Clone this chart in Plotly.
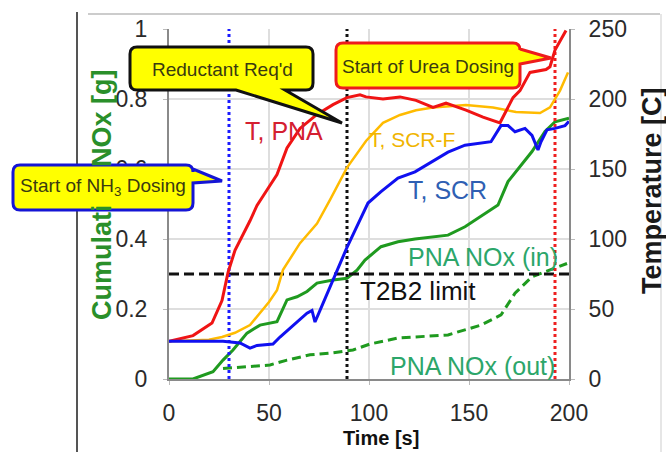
import plotly.graph_objects as go

# ---------------- data ----------------
t_pna = [0, 12, 21.5, 26.5, 29.5, 33, 40.5, 44, 49, 54, 59, 65.5, 74, 82, 89, 95.5,
         98.5, 107, 115.5, 123.5, 132, 138.5, 148.5, 157, 165.5, 168, 172, 175.5,
         180.5, 188.5, 190.5, 193, 198.5]
temp_pna = [27, 31, 40, 56, 76, 92, 113, 124, 135, 146, 165, 179, 189, 196, 201, 203,
            201.5, 200, 201.5, 199, 194, 197, 192, 187, 183, 190, 201, 206,
            219, 221, 223, 235, 249]

t_scrf = [0, 20, 26.5, 33, 40.5, 45.5, 50, 54, 57, 65.5, 74, 80.5, 89, 98.5, 107,
          115.5, 123.5, 132, 148.5, 162, 173.5, 185.5, 190.5, 195.5, 199.5]
temp_scrf = [27, 28, 30, 33, 38.5, 47, 55, 63.5, 78, 97, 111, 128, 151, 170, 183,
             188.6, 192, 194, 195.7, 194, 190.7, 190, 194, 206, 219]

t_scr = [0, 27, 35.5, 40.5, 44, 52, 55.5, 62, 69, 71.5, 73, 75.5, 79, 84, 89, 95.5,
         99.5, 106, 114.5, 123, 131, 139.5, 148, 161, 166, 169.5, 173, 178, 181.5,
         184.5, 186, 189, 193, 198, 200]
temp_scr = [27, 27, 25.7, 22, 24, 25, 30, 38.5, 47, 49, 40.7, 49, 61, 78, 94, 113.6,
            125.7, 133.8, 143.5, 148, 155, 162, 167, 169.5, 181, 181, 176.6, 179, 174,
            163.6, 169.5, 178, 179, 181, 184]

t_nox_in = [0, 12, 22, 27, 32, 39, 45.5, 54, 59, 64, 69, 74, 82, 89, 94, 98, 106,
            114.5, 123, 139.5, 148, 156, 164.5, 169.5, 176, 181.5, 188, 193, 200]
nox_in = [0, 0, 0.021, 0.054, 0.083, 0.131, 0.154, 0.164, 0.226, 0.235, 0.25, 0.274,
          0.283, 0.288, 0.311, 0.34, 0.378, 0.392, 0.40, 0.411, 0.435, 0.464, 0.497,
          0.564, 0.611, 0.65, 0.707, 0.735, 0.745]

t_nox_out = [27, 37, 50.5, 59, 70.5, 82, 92, 100.5, 114.5, 139.5, 148, 156, 166, 173,
             181.5, 190, 199]
nox_out = [0.03, 0.035, 0.04, 0.054, 0.069, 0.075, 0.083, 0.1, 0.117, 0.126, 0.14,
           0.154, 0.183, 0.245, 0.292, 0.31, 0.33]

NH3_DOSING_T = 30
REDUCTANT_T = 89
UREA_DOSING_T = 193
T2B2_LIMIT = 0.3

x_ticks = [0, 50, 100, 150, 200]
nox_ticks = [0, 0.2, 0.4, 0.6, 0.8, 1.0]
nox_tick_labels = ["0", "0.2", "0.4", "0.6", "0.8", "1"]
temp_ticks = [0, 50, 100, 150, 200, 250]

# ---------------- geometry helpers (pixels -> paper) ----------------
W, H = 666, 452
PL, PR, PT, PB = 169, 569, 29, 379


def X(px):
    return (px - PL) / (PR - PL)


def Y(py):
    return (PB - py) / (PB - PT)


def callout_path(x0, y0, x1, y1, r, tail=None):
    p = "M{},{} L{},{} Q{},{} {},{} ".format(X(x0 + r), Y(y0), X(x1 - r), Y(y0),
                                             X(x1), Y(y0), X(x1), Y(y0 + r))
    if tail and tail[0] == "right":
        _, a, b, tx, ty = tail
        p += "L{},{} L{},{} L{},{} ".format(X(x1), Y(a), X(tx), Y(ty), X(x1), Y(b))
    p += "L{},{} Q{},{} {},{} ".format(X(x1), Y(y1 - r), X(x1), Y(y1), X(x1 - r), Y(y1))
    if tail and tail[0] == "bottom":
        _, a, b, tx, ty = tail
        p += "L{},{} L{},{} L{},{} ".format(X(b), Y(y1), X(tx), Y(ty), X(a), Y(y1))
    p += "L{},{} Q{},{} {},{} ".format(X(x0 + r), Y(y1), X(x0), Y(y1), X(x0), Y(y1 - r))
    p += "L{},{} Q{},{} {},{} Z".format(X(x0), Y(y0 + r), X(x0), Y(y0), X(x0 + r), Y(y0))
    return p


RED = "#f01414"
ORANGE = "#ffbb00"
BLUE = "#1010f0"
GREEN = "#1f9a1f"
YELLOW = "#ffff00"
BASE = "Liberation Sans, Arial, sans-serif"

fig = go.Figure()

fig.add_trace(go.Scatter(x=t_scrf, y=temp_scrf, yaxis="y2", mode="lines",
                         line=dict(color=ORANGE, width=2.5)))
fig.add_trace(go.Scatter(x=t_nox_in, y=nox_in, mode="lines",
                         line=dict(color=GREEN, width=3)))
fig.add_trace(go.Scatter(x=t_nox_out, y=nox_out, mode="lines",
                         line=dict(color=GREEN, width=3, dash="9px,5px")))
fig.add_trace(go.Scatter(x=t_pna, y=temp_pna, yaxis="y2", mode="lines",
                         line=dict(color=RED, width=3)))
fig.add_trace(go.Scatter(x=t_scr, y=temp_scr, yaxis="y2", mode="lines",
                         line=dict(color=BLUE, width=3)))

# reference lines
fig.add_trace(go.Scatter(x=[0, 200], y=[T2B2_LIMIT, T2B2_LIMIT], mode="lines",
                         line=dict(color="#111111", width=3, dash="10px,5px")))
fig.add_trace(go.Scatter(x=[NH3_DOSING_T, NH3_DOSING_T], y=[0, 1], mode="lines",
                         line=dict(color="#1a1aff", width=3, dash="3px,3px")))
fig.add_trace(go.Scatter(x=[REDUCTANT_T, REDUCTANT_T], y=[0, 1], mode="lines",
                         line=dict(color="#111111", width=3, dash="3px,3px")))
fig.add_trace(go.Scatter(x=[UREA_DOSING_T, UREA_DOSING_T], y=[0, 1], mode="lines",
                         line=dict(color="#ee2020", width=3, dash="3px,3px")))

shapes = [
    # slide decorations
    dict(type="line", xref="paper", yref="paper", x0=X(77), x1=X(77), y0=Y(12), y1=Y(452),
         line=dict(color="#555555", width=2)),
    dict(type="line", xref="paper", yref="paper", x0=X(88), x1=X(660), y0=Y(14), y1=Y(14),
         line=dict(color="#cccccc", width=2)),
    dict(type="line", xref="paper", yref="paper", x0=X(661), x1=X(661), y0=Y(14), y1=Y(452),
         line=dict(color="#e6e6e6", width=2)),
    # callouts
    dict(type="path", xref="paper", yref="paper", layer="above",
         path=callout_path(13, 165, 193, 210, 7, ("right", 169, 183, 222, 181)),
         fillcolor=YELLOW, line=dict(color="#1515d5", width=3)),
    dict(type="path", xref="paper", yref="paper", layer="above",
         path=callout_path(130, 47, 313, 90, 7, ("bottom", 236, 285, 342, 123)),
         fillcolor=YELLOW, line=dict(color="#111111", width=3)),
    dict(type="path", xref="paper", yref="paper", layer="above",
         path=callout_path(336, 43, 520, 88, 7, ("right", 49, 64, 551, 58)),
         fillcolor=YELLOW, line=dict(color="#ee1c1c", width=3)),
]

TXT = "#3a3a10"


def ann(text, px, py, size, color, xanchor="center", **kw):
    d = dict(text=text, xref="paper", yref="paper", x=X(px), y=Y(py),
             xanchor=xanchor, yanchor="middle", showarrow=False,
             font=dict(family=BASE, size=size, color=color, weight=kw.pop("weight", "normal")))
    d.update(kw)
    return d


annotations = [
    # axis titles
    ann("Cumulative NOx [g]", 102, 195, 27, "#2a8f2a", textangle=-90, weight="bold"),
    ann("Temperature [C]", 652, 191, 27, "#1a1a1a", textangle=-90, weight="bold"),
    ann("Time [s]", 381, 438, 20, "#111111", weight="bold"),
    # callout texts
    ann("Start of NH<sub>3</sub> Dosing", 103, 187, 19, TXT,
        width=172, height=38, bgcolor=YELLOW, borderpad=0),
    ann("Reductant Req'd", 222, 69, 19, TXT),
    ann("Start of Urea Dosing", 428, 66, 19, TXT),
    # series labels
    ann("T, PNA", 284, 131, 25, "#d42030"),
    ann("T, SCR-F", 412, 139, 21, "#f0b400"),
    ann("T, SCR", 447, 190, 25, "#2f5fb3"),
    ann("PNA NOx (in)", 406, 257, 25, "#2ca66a", xanchor="left"),
    ann("PNA NOx (out)", 388, 366, 25, "#2ca66a", xanchor="left"),
    ann("T2B2 limit", 358, 291, 26, "#111111", xanchor="left"),
]

TICKFONT = dict(family=BASE, size=23, color="#2a2a2a")
fig.update_layout(
    width=W, height=H,
    margin=dict(l=PL, r=W - PR, t=PT, b=H - PB, pad=0),
    paper_bgcolor="white", plot_bgcolor="white",
    showlegend=False,
    xaxis=dict(range=[0, 200], tickvals=x_ticks, showgrid=True, gridcolor="#dedede",
               gridwidth=1.5, showline=True, linecolor="#8a8a8a", linewidth=2,
               ticks="outside", ticklen=4, tickcolor="#bbbbbb", tickfont=TICKFONT,
               ticklabelstandoff=8, zeroline=False),
    yaxis=dict(range=[0, 1], tickvals=nox_ticks, ticktext=nox_tick_labels, showgrid=True,
               gridcolor="#dedede", gridwidth=1.5, showline=True, linecolor="#8a8a8a",
               linewidth=2, ticks="outside", ticklen=4, tickcolor="#bbbbbb",
               tickfont=TICKFONT, ticklabelstandoff=11, zeroline=False),
    yaxis2=dict(range=[0, 250], tickvals=temp_ticks, overlaying="y", side="right",
                showgrid=False, showline=True, linecolor="#8a8a8a", linewidth=2,
                ticks="outside", ticklen=4, tickcolor="#bbbbbb", tickfont=TICKFONT,
                ticklabelstandoff=9, zeroline=False),
    shapes=shapes,
    annotations=annotations,
)

fig.write_html("out.html")
